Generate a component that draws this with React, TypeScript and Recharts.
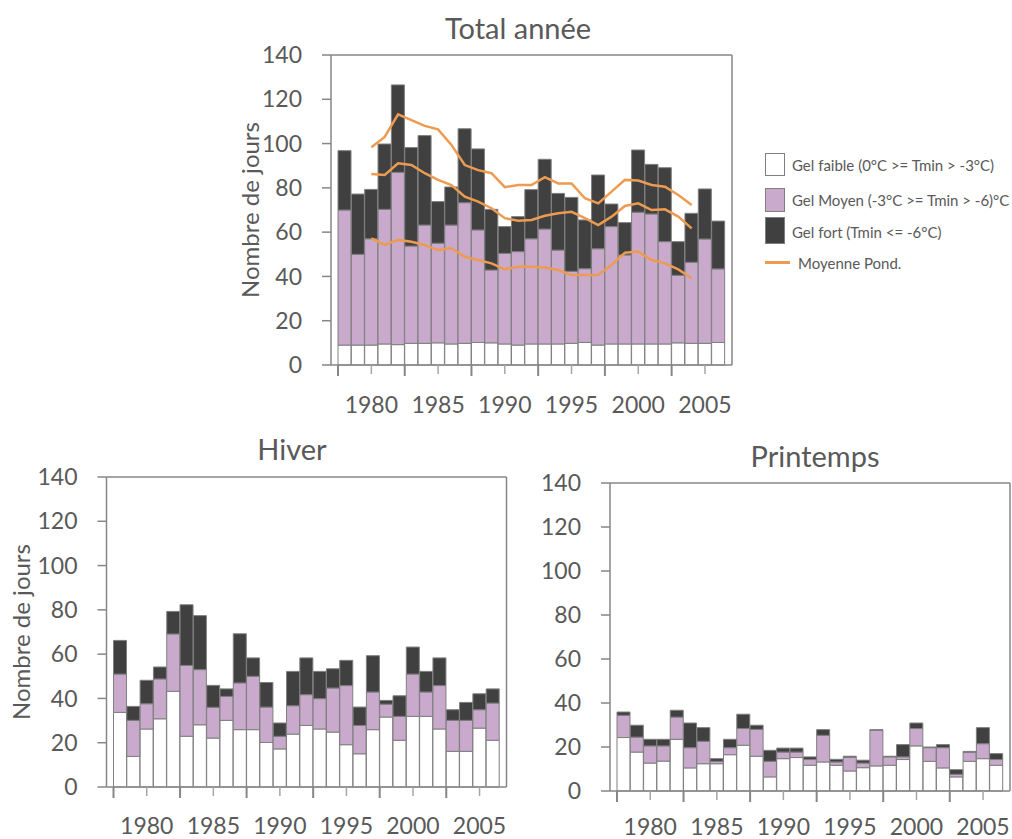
import React from 'react';
import { ComposedChart, Bar, Line, XAxis, YAxis, Legend } from 'recharts';

const YEARS = [1978, 1979, 1980, 1981, 1982, 1983, 1984, 1985, 1986, 1987, 1988, 1989, 1990, 1991, 1992, 1993, 1994, 1995, 1996, 1997, 1998, 1999, 2000, 2001, 2002, 2003, 2004, 2005, 2006];
const LABEL_YEARS = [1980, 1985, 1990, 1995, 2000, 2005];
const Y_TICKS = [0, 20, 40, 60, 80, 100, 120, 140];

// Total année (stacked segments)
const TOTAL_FAIBLE = [9, 9, 9, 9.5, 9.2, 9.8, 9.8, 10, 9.5, 9.8, 10.2, 10, 9.5, 9, 9.5, 9.5, 9.5, 9.8, 10.2, 9, 9.5, 9.5, 9.5, 9.5, 9.5, 10, 9.8, 9.8, 10.2];
const TOTAL_MOYEN = [61, 41, 48, 60.8, 77.8, 43.9, 53.4, 45, 53.7, 63.5, 50.8, 32.9, 40.9, 42.2, 47.5, 51.9, 42.4, 32.5, 33.3, 43.5, 53, 40.2, 59.5, 58.7, 46.2, 30.5, 36.6, 47.1, 33.2];
const TOTAL_FORT = [26.8, 27.2, 22.3, 29.5, 39.5, 44.5, 40.4, 18.8, 17.2, 33.4, 36.6, 27.4, 12.1, 15.8, 22.2, 31.5, 25.6, 33.4, 22, 33.3, 10.2, 14.6, 28.1, 22.4, 33.4, 15.2, 22.1, 22.6, 21.6];

// Moyennes pondérées (total année)
const MOY_HAUTE = [null, null, 98.3, 103, 113.2, 110.6, 108, 106.4, 99.4, 90.3, 88, 86.6, 80.3, 81.3, 81.3, 84.8, 82, 82, 75.3, 73, 78.3, 83.6, 83.3, 81.3, 80.5, 76.8, 72.3, null, null];
const MOY_MILIEU = [null, null, 86.3, 85.8, 91.1, 90.3, 86.6, 83.6, 81.3, 76, 73.8, 70.8, 66.3, 65.2, 65.5, 67.4, 68.5, 69.2, 66.3, 63.2, 67, 71.8, 73, 70, 70.3, 67, 61.7, null, null];
const MOY_BASSE = [null, null, 57.2, 54.2, 56.5, 55.7, 54.2, 51.9, 52.7, 48.9, 47.4, 45.9, 43.2, 44.4, 44.4, 44, 42.9, 40.6, 40.6, 40.6, 45.2, 50.7, 51.2, 47.4, 45.9, 43.2, 39.2, null, null];

// Hiver
const HIVER_FAIBLE = [33.7, 13.8, 26.2, 30.8, 43.2, 22.9, 28.1, 22.1, 30.1, 25.9, 25.9, 20.1, 17.2, 23.9, 27.8, 26.2, 24.8, 19.1, 15, 25.9, 31.6, 21.1, 31.9, 31.9, 26.2, 16.1, 16.1, 26.6, 21.1];
const HIVER_MOYEN = [17.3, 16.3, 11.4, 18, 25.9, 32, 24.9, 13.9, 10.8, 21.1, 24.1, 16, 5.7, 12.8, 13.9, 13.7, 19.9, 26.7, 12.8, 17, 5.8, 10.8, 19.1, 11, 19.6, 14, 14, 8.3, 16.8];
const HIVER_FORT = [15.2, 6.3, 10.6, 5.4, 10.2, 27.4, 24.4, 9.9, 3.4, 22.2, 8.3, 11.1, 6, 15.5, 16.6, 12.3, 8.7, 11.4, 8.3, 16.4, 1.7, 9.3, 12.2, 9.3, 12.5, 4.8, 8.1, 7.2, 6.4];

// Printemps
const PRINT_FAIBLE = [24.3, 17.7, 12.7, 13.6, 23.5, 10.5, 12.4, 12.4, 16.5, 20.8, 15.8, 6.4, 14.7, 15.2, 11.7, 13.2, 11.7, 9.1, 10.6, 11.4, 11.7, 14.3, 20.5, 13.5, 10.5, 6.4, 13.5, 14.7, 11.7];
const PRINT_MOYEN = [10.1, 6.8, 7.8, 6.9, 10.1, 9.2, 10.2, 1.1, 3.2, 7.6, 12.2, 7.1, 3, 2.5, 2.6, 12.1, 1.5, 6.2, 2.1, 16.1, 3.8, 1.2, 7.9, 6.2, 9.2, 1.2, 4, 6.8, 2.6];
const PRINT_FORT = [1.5, 5.4, 3, 3, 3.1, 11.2, 6.2, 1.2, 3.8, 6.5, 1.9, 5, 1.8, 1.8, 1.2, 2.6, 1.2, 0.5, 1.3, 0.4, 0.3, 5.6, 2.5, 0.3, 1.4, 2.1, 0.5, 7.3, 2.7];

const LEGEND_NAMES = ['Gel faible (0°C >= Tmin > -3°C)', 'Gel Moyen (-3°C >= Tmin > -6)°C', 'Gel fort (Tmin <= -6°C)', 'Moyenne Pond.'];

const PAGE_W = 1012;
const PAGE_H = 839;
const FONT = "Lato, 'Open Sans', sans-serif";
const TEXT = '#595959';
const AXIS = '#868686';
const C_FAIBLE = '#ffffff';
const C_MOYEN = '#c9aacc';
const C_FORT = '#404040';
const C_LINE = '#ed9b50';
const BAR_STROKE = '#7f7f7f';
const Y_W = 100;
const X_H = 60;
const PAD = 7;
const TICK_FS = 23;

type Row = { year: number; faible: number; moyen: number; fort: number; haute?: number | null; milieu?: number | null; basse?: number | null };

const buildRows = (f: number[], m: number[], s: number[]): Row[] =>
  YEARS.map((year, i) => ({ year, faible: f[i], moyen: m[i], fort: s[i] }));

const totalRows: Row[] = buildRows(TOTAL_FAIBLE, TOTAL_MOYEN, TOTAL_FORT).map((r, i) => ({
  ...r,
  haute: MOY_HAUTE[i],
  milieu: MOY_MILIEU[i],
  basse: MOY_BASSE[i],
}));
const hiverRows = buildRows(HIVER_FAIBLE, HIVER_MOYEN, HIVER_FORT);
const printRows = buildRows(PRINT_FAIBLE, PRINT_MOYEN, PRINT_FORT);

const XTick = (props: any) => {
  const { x, y, payload, band, labelDy } = props;
  const major = x - 2.5 * band;
  return (
    <g>
      <line x1={x} x2={x} y1={y} y2={y + 9} stroke="#a6a6a6" strokeWidth={1.5} />
      <line x1={major} x2={major} y1={y} y2={y + 11} stroke={AXIS} strokeWidth={2} />
      <text x={x} y={y + labelDy} textAnchor="middle" dominantBaseline="central" fontSize={TICK_FS} fill={TEXT} fontFamily={FONT}>
        {payload.value}
      </text>
    </g>
  );
};

const LegendBox = () => {
  const rows = [
    { kind: 'box', color: C_FAIBLE, top: 5, h: 23, cy: 17 },
    { kind: 'box', color: C_MOYEN, top: 40, h: 24, cy: 52 },
    { kind: 'box', color: C_FORT, top: 69, h: 27, cy: 84 },
    { kind: 'line', color: C_LINE, top: 114, h: 3, cy: 115 },
  ];
  return (
    <div style={{ position: 'relative', width: 250, height: 130, fontFamily: FONT, color: TEXT }}>
      {rows.map((r, i) => (
        <React.Fragment key={i}>
          {r.kind === 'box' ? (
            <div style={{ position: 'absolute', left: 3, top: r.top, width: 20, height: r.h, background: r.color, border: `1px solid ${BAR_STROKE}`, boxSizing: 'border-box' }} />
          ) : (
            <div style={{ position: 'absolute', left: 3, top: r.top - 1, width: 25, height: r.h, background: r.color }} />
          )}
          <div style={{ position: 'absolute', left: r.kind === 'box' ? 30 : 36, top: r.cy, transform: 'translateY(-50%)', fontSize: 15, whiteSpace: 'nowrap', lineHeight: 1 }}>
            {LEGEND_NAMES[i]}
          </div>
        </React.Fragment>
      ))}
    </div>
  );
};

type PanelProps = {
  data: Row[];
  plot: { x: number; y: number; w: number; h: number };
  yLabel?: string;
  yLabelDx?: number;
  labelDy?: number;
  withLines?: boolean;
  withLegend?: boolean;
};

function Panel({ data, plot, yLabel, yLabelDx = 82, labelDy = 39, withLines, withLegend }: PanelProps) {
  const band = (plot.w - 2 * PAD) / data.length;
  const margin = {
    top: plot.y - 1,
    left: plot.x - Y_W,
    right: PAGE_W - plot.x - plot.w - 1,
    bottom: PAGE_H - plot.y - plot.h - X_H,
  };
  const yLabelContent = (p: any) => {
    const vb = p.viewBox || {};
    const cx = vb.x + vb.width - yLabelDx;
    const cy = vb.y + vb.height / 2;
    return (
      <text x={cx} y={cy} transform={`rotate(-90 ${cx} ${cy})`} textAnchor="middle" dominantBaseline="central" fontSize={24} fill={TEXT} fontFamily={FONT}>
        {yLabel}
      </text>
    );
  };
  return (
    <div style={{ position: 'absolute', left: 0, top: 0 }}>
      <ComposedChart width={PAGE_W} height={PAGE_H} data={data} margin={margin} barCategoryGap={0} barGap={0}>
        <XAxis
          dataKey="year"
          type="category"
          padding={{ left: PAD, right: PAD }}
          height={X_H}
          ticks={LABEL_YEARS}
          interval={0}
          tickSize={0}
          tickMargin={0}
          tickLine={false}
          axisLine={{ stroke: AXIS, strokeWidth: 1.5 }}
          tick={(p: any) => <XTick {...p} band={band} labelDy={labelDy} />}
        />
        <XAxis xAxisId="top" dataKey="year" orientation="top" height={1} tick={false} tickLine={false} padding={{ left: PAD, right: PAD }} axisLine={{ stroke: AXIS, strokeWidth: 1.5 }} />
        <YAxis
          type="number"
          domain={[0, 140]}
          ticks={Y_TICKS}
          interval={0}
          width={Y_W}
          tickSize={9}
          tickMargin={20}
          axisLine={{ stroke: AXIS, strokeWidth: 1.5 }}
          tickLine={{ stroke: AXIS, strokeWidth: 1.5 }}
          tick={{ fontSize: TICK_FS, fill: TEXT, fontFamily: FONT }}
          label={yLabel ? { content: yLabelContent } : undefined}
        />
        <YAxis yAxisId="right" orientation="right" type="number" domain={[0, 140]} width={1} tick={false} tickLine={false} axisLine={{ stroke: AXIS, strokeWidth: 1.5 }} />
        <Bar dataKey="faible" stackId="s" fill={C_FAIBLE} stroke={BAR_STROKE} strokeWidth={1} isAnimationActive={false} />
        <Bar dataKey="moyen" stackId="s" fill={C_MOYEN} stroke={BAR_STROKE} strokeWidth={1} isAnimationActive={false} />
        <Bar dataKey="fort" stackId="s" fill={C_FORT} stroke={BAR_STROKE} strokeWidth={1} isAnimationActive={false} />
        {withLines && <Line dataKey="haute" stroke={C_LINE} strokeWidth={2.5} dot={false} activeDot={false} type="linear" isAnimationActive={false} />}
        {withLines && <Line dataKey="milieu" stroke={C_LINE} strokeWidth={2.5} dot={false} activeDot={false} type="linear" isAnimationActive={false} />}
        {withLines && <Line dataKey="basse" stroke={C_LINE} strokeWidth={2.5} dot={false} activeDot={false} type="linear" isAnimationActive={false} />}
        {withLegend && (
          <Legend
            layout="vertical"
            align="center"
            verticalAlign="middle"
            wrapperStyle={{ left: 762, top: 148, bottom: 'auto', width: 250, height: 130 }}
            content={() => <LegendBox />}
          />
        )}
      </ComposedChart>
    </div>
  );
}

const titleStyle = (cx: number, cy: number): React.CSSProperties => ({
  position: 'absolute',
  left: cx,
  top: cy,
  transform: 'translate(-50%, -50%)',
  fontSize: 29,
  lineHeight: 1,
  color: TEXT,
  fontFamily: FONT,
  whiteSpace: 'nowrap',
});

export default function App() {
  return (
    <div style={{ position: 'absolute', left: 0, top: 0, width: PAGE_W, height: PAGE_H, background: '#fff', overflow: 'hidden' }}>
      <div style={titleStyle(518, 27)}>Total année</div>
      <div style={titleStyle(292, 448)}>Hiver</div>
      <div style={titleStyle(815, 455)}>Printemps</div>
      <Panel data={totalRows} plot={{ x: 331, y: 55, w: 401, h: 310 }} yLabel="Nombre de jours" yLabelDx={82} withLines withLegend />
      <Panel data={hiverRows} plot={{ x: 106.5, y: 477, w: 400, h: 310 }} yLabel="Nombre de jours" yLabelDx={86} labelDy={38} />
      <Panel data={printRows} plot={{ x: 610, y: 483, w: 400, h: 308 }} labelDy={35} />
    </div>
  );
}
